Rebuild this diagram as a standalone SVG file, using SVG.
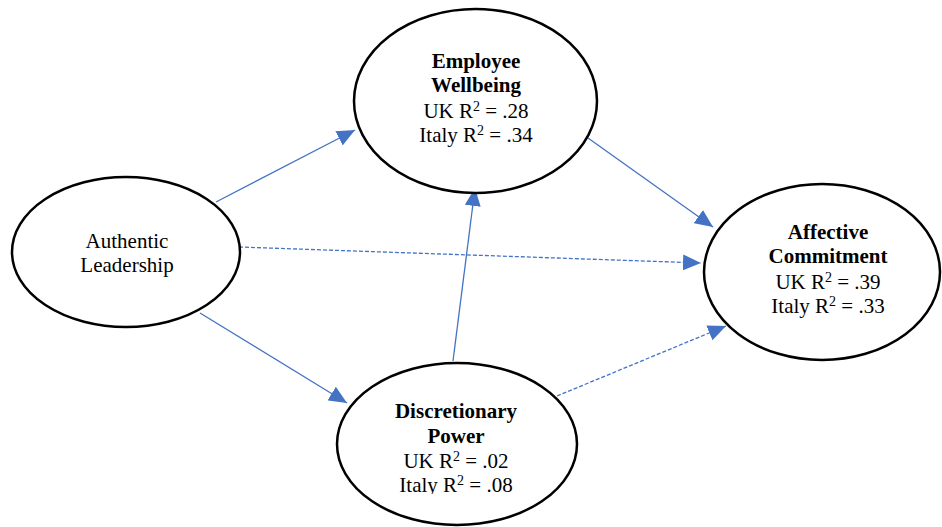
<svg xmlns="http://www.w3.org/2000/svg" width="942" height="527" viewBox="0 0 942 527">
<style>
.node{fill:#fff;stroke:#000;stroke-width:2.5}
.t{font-family:"Liberation Serif","Times New Roman",serif;font-size:21px;fill:#000;text-anchor:middle}
.b{font-weight:bold}
.c{stroke:#4472C4;stroke-width:1.3;fill:none}
.d{stroke-dasharray:4 2}
</style>
<defs>
<marker id="ah" markerUnits="userSpaceOnUse" markerWidth="20" markerHeight="16" viewBox="0 0 20 16" refX="18" refY="8" orient="auto">
<path d="M0,0 L18,8 L0,16 Z" fill="#4472C4"/>
</marker>
<clipPath id="clipdp"><rect x="0" y="0" width="942" height="494"/></clipPath>
</defs>
<g id="connectors">
<line class="c" x1="216" y1="202" x2="355" y2="130" marker-end="url(#ah)"/>
<line class="c" x1="200" y1="313" x2="347" y2="403" marker-end="url(#ah)"/>
<line class="c d" x1="239" y1="247" x2="701" y2="263" marker-end="url(#ah)"/>
<line class="c" x1="588" y1="138" x2="713" y2="227" marker-end="url(#ah)"/>
<line class="c" x1="453" y1="361" x2="475" y2="188" marker-end="url(#ah)"/>
<line class="c d" x1="557" y1="396" x2="726" y2="326" marker-end="url(#ah)"/>
</g>
<g id="authentic-leadership">
<ellipse class="node" cx="126" cy="252" rx="114" ry="75"/>
<text class="t" x="127" y="248">Authentic</text>
<text class="t" x="127" y="272">Leadership</text>
</g>
<g id="employee-wellbeing">
<ellipse class="node" cx="475.5" cy="101" rx="121.5" ry="92"/>
<text class="t b" x="476" y="68">Employee</text>
<text class="t b" x="476" y="92">Wellbeing</text>
<text class="t" x="476" y="118">UK R<tspan font-size="14" dy="-7">2</tspan><tspan dy="7"> = .28</tspan></text>
<text class="t" x="476" y="142">Italy R<tspan font-size="14" dy="-7">2</tspan><tspan dy="7"> = .34</tspan></text>
</g>
<g id="affective-commitment">
<ellipse class="node" cx="822" cy="272" rx="118" ry="88"/>
<text class="t b" x="828" y="239">Affective</text>
<text class="t b" x="828" y="263">Commitment</text>
<text class="t" x="828" y="289">UK R<tspan font-size="14" dy="-7">2</tspan><tspan dy="7"> = .39</tspan></text>
<text class="t" x="828" y="313">Italy R<tspan font-size="14" dy="-7">2</tspan><tspan dy="7"> = .33</tspan></text>
</g>
<g id="discretionary-power">
<ellipse class="node" cx="457" cy="444" rx="120" ry="81"/>
<text class="t b" x="456" y="418">Discretionary</text>
<text class="t b" x="456" y="443">Power</text>
<text class="t" x="456" y="468">UK R<tspan font-size="14" dy="-7">2</tspan><tspan dy="7"> = .02</tspan></text>
<text class="t" x="456" y="492" clip-path="url(#clipdp)">Italy R<tspan font-size="14" dy="-7">2</tspan><tspan dy="7"> = .08</tspan></text>
</g>
</svg>
